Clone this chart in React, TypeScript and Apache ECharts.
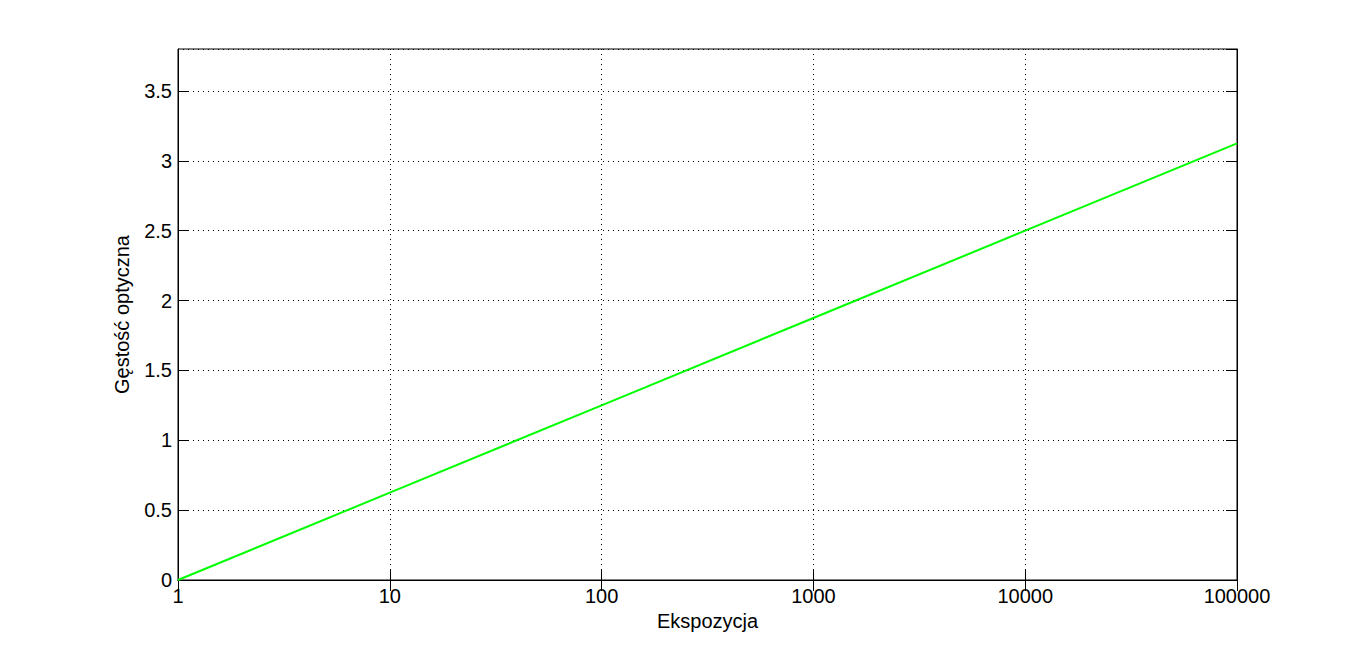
import React, { useEffect, useRef } from "react";
import * as echarts from "echarts";

const exposure: number[] = [1, 10, 100, 1000, 10000, 100000];
const density: number[] = [0, 0.625, 1.25, 1.875, 2.5, 3.125];
const xLabel = "Ekspozycja";
const yLabel = "Gęstość optyczna";

const FONT = "Liberation Sans, Arial, Helvetica, sans-serif";
const FS = 20;

export default function App() {
  const ref = useRef<HTMLDivElement>(null);
  useEffect(() => {
    if (!ref.current) return;
    const chart = echarts.init(ref.current, undefined, { renderer: "svg" });
    const tickStyle = { show: true, inside: true, length: 11, lineStyle: { color: "#000", width: 1 } };
    chart.setOption({
      animation: false,
      backgroundColor: "#fff",
      textStyle: { fontFamily: FONT },
      grid: {
        left: 178,
        top: 49,
        width: 1059,
        height: 531,
        show: true,
        borderColor: "#000",
        borderWidth: 1,
        backgroundColor: "transparent",
      },
      xAxis: [
        {
          type: "log",
          logBase: 10,
          min: 1,
          max: 100000,
          position: "bottom",
          name: xLabel,
          nameLocation: "middle",
          nameGap: 30,
          nameTextStyle: { color: "#000", fontSize: FS, fontFamily: FONT },
          axisLine: { show: true, lineStyle: { color: "#000", width: 1 } },
          axisTick: tickStyle,
          minorTick: { show: false },
          axisLabel: {
            color: "#000",
            fontSize: FS,
            fontFamily: FONT,
            margin: 6,
            formatter: (v: number) => String(Math.round(v)),
          },
          splitLine: { show: true, lineStyle: { color: "#000", type: [1, 4], width: 1 } },
        },
        {
          type: "log",
          logBase: 10,
          min: 1,
          max: 100000,
          position: "top",
          axisLine: { show: true, lineStyle: { color: "#000", width: 1 } },
          axisTick: tickStyle,
          axisLabel: { show: false },
          splitLine: { show: false },
        },
      ],
      yAxis: [
        {
          type: "value",
          min: 0,
          max: 3.8,
          interval: 0.5,
          position: "left",
          name: yLabel,
          nameLocation: "middle",
          nameGap: 46,
          nameRotate: 90,
          nameTextStyle: { color: "#000", fontSize: FS, fontFamily: FONT },
          axisLine: { show: true, lineStyle: { color: "#000", width: 1 } },
          axisTick: tickStyle,
          axisLabel: {
            color: "#000",
            fontSize: FS,
            fontFamily: FONT,
            margin: 6,
            showMaxLabel: false,
            formatter: (v: number) => (Math.abs(v - 3.8) < 1e-9 ? "" : String(v)),
          },
          splitLine: { show: true, lineStyle: { color: "#000", type: [1, 4], width: 1 } },
        },
        {
          type: "value",
          min: 0,
          max: 3.8,
          interval: 0.5,
          position: "right",
          axisLine: { show: true, lineStyle: { color: "#000", width: 1 } },
          axisTick: tickStyle,
          axisLabel: { show: false },
          splitLine: { show: false },
        },
      ],
      series: [
        {
          type: "line",
          xAxisIndex: 0,
          yAxisIndex: 0,
          data: exposure.map((e, i) => [e, density[i]]),
          showSymbol: false,
          symbol: "none",
          lineStyle: { color: "#00ff00", width: 2 },
          z: 5,
        },
      ],
    });
    return () => chart.dispose();
  }, []);
  return (
    <div
      ref={ref}
      style={{ position: "fixed", left: 0, top: 0, width: 1367, height: 652, background: "#fff" }}
    />
  );
}
